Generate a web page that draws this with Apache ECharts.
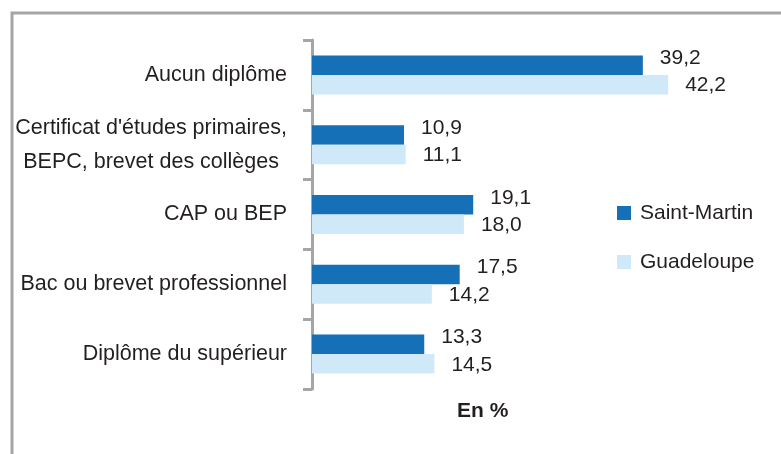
<!DOCTYPE html>
<html><head><meta charset="utf-8">
<script src="https://cdn.jsdelivr.net/npm/echarts@6/dist/echarts.min.js"></script>
<style>html,body{margin:0;padding:0;background:#fff}#c{width:781px;height:454px}</style>
</head><body><div id="c"></div>
<script>
const categories = ["Aucun diplôme", "Certificat d'études primaires,\nBEPC, brevet des collèges", "CAP ou BEP", "Bac ou brevet professionnel", "Diplôme du supérieur"];
const seriesNames = ["Saint-Martin", "Guadeloupe"];
const saintMartin = [39.2, 10.9, 19.1, 17.5, 13.3];
const guadeloupe = [42.2, 11.1, 18.0, 14.2, 14.5];
const unitLabel = "En %";

const font = "'Liberation Sans', Arial, sans-serif";
const txt = '#231f20';
const fmt = p => p.value.toFixed(1).replace('.', ',');
const chart = echarts.init(document.getElementById('c'));
chart.setOption({
  animation: false,
  textStyle: {fontFamily: font},
  graphic: [{type: 'rect', shape: {x: 12, y: 13, width: 900, height: 600}, style: {fill: 'none', stroke: '#a5a5a5', lineWidth: 3}, silent: true}],
  title: {text: unitLabel, left: 452, top: 396, textStyle: {fontFamily: font, fontSize: 21, fontWeight: 'bold', color: txt}},
  grid: {left: 312, right: 47, top: 40, bottom: 65, containLabel: false},
  legend: {orient: 'vertical', left: 612, top: 197, itemWidth: 14, itemHeight: 14, itemGap: 27, icon: 'rect',
    textStyle: {fontFamily: font, fontSize: 21, color: txt, lineHeight: 22, padding: [0, 0, 0, 4]}, data: seriesNames},
  xAxis: {type: 'value', min: 0, max: 50, show: false},
  yAxis: {type: 'category', inverse: true, data: categories,
    axisLine: {show: true, lineStyle: {color: '#a5a5a5', width: 3}},
    axisTick: {show: true, length: 9, alignWithLabel: false, lineStyle: {color: '#a5a5a5', width: 3}},
    axisLabel: {margin: 25, color: txt, fontSize: 21.5, fontFamily: font, lineHeight: 34,
      formatter: v => v.split('\n').map(l => '{c|' + l + '}').join('\n'),
      rich: {c: {fontSize: 21.5, fontFamily: font, color: txt, lineHeight: 34, align: 'center'}}}},
  series: [
    {name: seriesNames[0], type: 'bar', data: saintMartin, barWidth: 19.5, barGap: '0%',
      itemStyle: {color: '#1570b8'},
      label: {show: true, position: 'right', distance: 0, offset: [17, -7], formatter: fmt, fontSize: 21, fontFamily: font, color: txt}},
    {name: seriesNames[1], type: 'bar', data: guadeloupe, barWidth: 19.5,
      itemStyle: {color: '#cfe9f9'},
      label: {show: true, position: 'right', distance: 0, offset: [17, 1], formatter: fmt, fontSize: 21, fontFamily: font, color: txt}}
  ]
});
</script></body></html>
